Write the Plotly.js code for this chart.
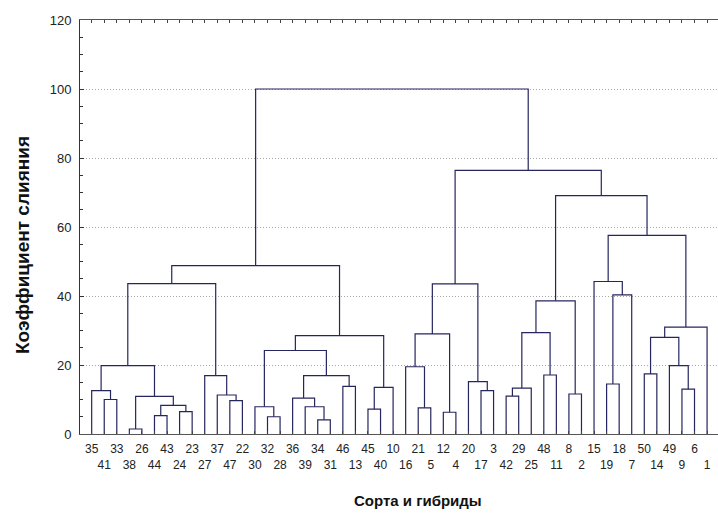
<!DOCTYPE html>
<html>
<head>
<meta charset="utf-8">
<script src="https://cdn.plot.ly/plotly-3.0.1.min.js"></script>
<style>html,body{margin:0;padding:0;background:#fff;}#chart{width:718px;height:513px;}</style>
</head>
<body>
<div id="chart"></div>
<script>
// Leaf order along the x axis (variety / hybrid numbers)
const leafLabels = ["35","41","33","38","26","44","43","24","23","27",
  "37","47","22","30","32","28","36","39","34","31",
  "46","13","45","40","10","16","21","5","12","4",
  "20","17","3","42","29","25","48","11","8","2",
  "15","19","18","7","50","14","49","9","6","1"];

// Merges: ids 0..49 are leaves (by position), 50+ are earlier merges in order
const mergeLeft  = [3,18,14,5,28,7,22,26,17,13,53,11,1,16,50,33,10,38,0,31,47,65,56,20,41,30,63,9,36,44,25,68,46,59,79,83,80,71,84,87,74,81,86,40,91,93,89,92,94];
const mergeRight = [4,19,15,6,29,8,23,27,51,52,55,12,2,58,60,34,61,39,62,32,48,35,24,21,42,69,73,66,37,45,57,64,70,76,82,72,54,78,49,67,43,77,75,90,85,88,95,96,97];
const mergeHeight = [1.45,4.1,5.0,5.3,6.3,6.5,7.2,7.6,7.9,7.9,8.3,9.7,10.0,10.4,10.9,11.0,11.3,11.6,12.6,12.6,13.0,13.3,13.5,13.8,14.5,15.2,16.9,16.9,17.1,17.4,19.5,19.8,19.8,24.2,28.0,28.5,29.0,29.4,31.0,38.6,40.3,43.6,43.5,44.2,48.8,57.6,69.1,76.4,100];

const yTicks = [0,20,40,60,80,100,120];

const nLeaves = leafLabels.length;
const posX = [], posY = [];
for (let i = 0; i < nLeaves; i++) { posX.push(i + 1); posY.push(0); }
const xs = [], ys = [];
for (let k = 0; k < mergeLeft.length; k++) {
  const a = mergeLeft[k], b = mergeRight[k], h = mergeHeight[k];
  xs.push(posX[a], posX[a], posX[b], posX[b], null);
  ys.push(posY[a], h, h, posY[b], null);
  posX.push((posX[a] + posX[b]) / 2);
  posY.push(h);
}

const tickVals = leafLabels.map((_, i) => i + 1);
const tickText = leafLabels.map((t, i) => (i % 2 === 0 ? t : "<br>" + t));

const trace = {
  x: xs, y: ys, type: "scatter", mode: "lines",
  line: {color: "#26265f", width: 1.2},
  hoverinfo: "skip", showlegend: false
};

const font = "Arial, 'Liberation Sans', sans-serif";
const layout = {
  width: 718, height: 513,
  margin: {l: 80, r: 0, t: 20, b: 79},
  paper_bgcolor: "#ffffff", plot_bgcolor: "#ffffff",
  font: {family: font, color: "#222"},
  showlegend: false,
  xaxis: {
    range: [0.07, 50.87], tickmode: "array", tickvals: tickVals, ticktext: tickText,
    ticks: "inside", ticklen: 3, tickwidth: 1, tickcolor: "#444",
    showline: true, linecolor: "#555", linewidth: 1, mirror: "ticks",
    showgrid: false, zeroline: false, tickangle: 0, automargin: false,
    ticklabelstandoff: 4,
    tickfont: {family: font, size: 12, color: "#222"}
  },
  yaxis: {
    range: [0, 120], tickmode: "array", tickvals: yTicks,
    ticks: "inside", ticklen: 4, tickwidth: 1, tickcolor: "#333",
    showline: true, linecolor: "#333", linewidth: 1, mirror: false,
    showgrid: true, gridcolor: "#a8a8a8", gridwidth: 1, griddash: "1px,2px",
    zeroline: false, automargin: false, ticklabelstandoff: 5,
    minor: {dtick: 5, ticks: "inside", ticklen: 3, tickcolor: "#333", showgrid: false},
    tickfont: {family: font, size: 13, color: "#222"}
  },
  annotations: [
    {text: "<b>Сорта и гибриды</b>", xref: "paper", yref: "paper",
     x: (418 - 80) / 638, y: -(500 - 434) / 414, xanchor: "center", yanchor: "middle",
     showarrow: false, font: {family: font, size: 15, color: "#111"}},
    {text: "<b>Коэффициент слияния</b>", xref: "paper", yref: "paper",
     x: -(80 - 22) / 638, y: (434 - 245) / 414, xanchor: "center", yanchor: "middle",
     textangle: -90, showarrow: false, font: {family: font, size: 19, color: "#111"}}
  ]
};

Plotly.newPlot("chart", [trace], layout, {staticPlot: true, displayModeBar: false});
</script>
</body>
</html>
